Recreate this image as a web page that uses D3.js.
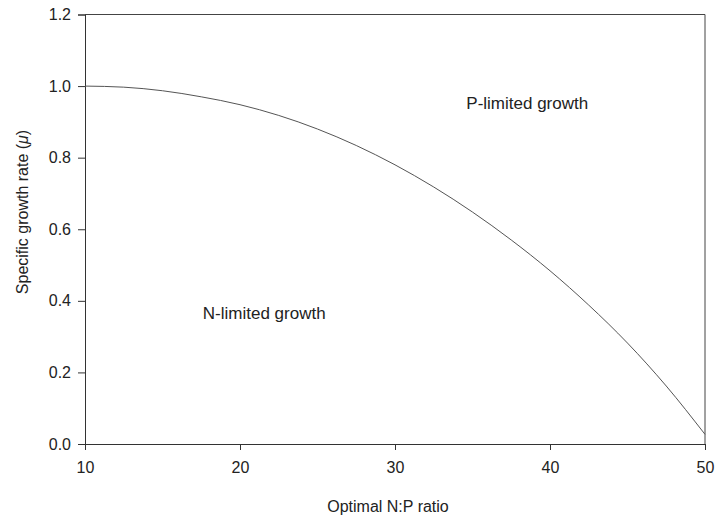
<!DOCTYPE html>
<html>
<head>
<meta charset="utf-8">
<script src="https://cdn.jsdelivr.net/npm/d3@7"></script>
<style>
  body { margin: 0; background: #fff; }
  svg { display: block; font-family: "Liberation Sans", Arial, sans-serif; }
</style>
</head>
<body>
<div id="chart"></div>
<script>
// N:P ratio along the curve and the growth rate
const npRatio = [10, 12.5, 15, 17.5, 20, 22.5, 25, 27.5, 30, 32.5, 35, 37.5, 40, 42.5, 45, 47.5, 50];
const growthRate = [1.0, 0.997, 0.987, 0.97, 0.948, 0.918, 0.88, 0.834, 0.78, 0.718, 0.648, 0.57, 0.484, 0.388, 0.282, 0.162, 0.027];
const xTicks = [10, 20, 30, 40, 50];
const yTicks = [0, 0.2, 0.4, 0.6, 0.8, 1.0, 1.2];

const totalWidth = 716;
const totalHeight = 519;
const margin = { top: 14.5, right: 11, bottom: 75, left: 85 };
const width = totalWidth - margin.left - margin.right;
const height = totalHeight - margin.top - margin.bottom;

const svg = d3.select('#chart')
  .append('svg')
  .attr('width', totalWidth)
  .attr('height', totalHeight)
  .append('g')
  .attr('transform', `translate(${margin.left},${margin.top})`);

const x = d3.scaleLinear().domain([10, 50]).range([0, width]);
const y = d3.scaleLinear().domain([0, 1.2]).range([height, 0]);

// frame (top and right sides)
svg.append('path')
  .attr('d', `M0,0H${width}V${height}`)
  .attr('fill', 'none')
  .attr('stroke', '#444')
  .attr('stroke-width', 1);

// axes
const xAxis = svg.append('g')
  .attr('transform', `translate(0,${height})`)
  .call(d3.axisBottom(x).tickValues(xTicks).tickSize(6).tickPadding(12).tickFormat(d3.format('d')));

const yAxis = svg.append('g')
  .call(d3.axisLeft(y).tickValues(yTicks).tickSize(7).tickPadding(7).tickFormat(d3.format('.1f')));

[xAxis, yAxis].forEach((g) => {
  g.select('.domain').attr('stroke', '#333');
  g.selectAll('.tick line').attr('stroke', '#333');
  g.selectAll('.tick text')
    .attr('fill', '#222')
    .style('font-size', '16px')
    .style('font-family', '"Liberation Sans", Arial, sans-serif');
});

// curve
const line = d3.line()
  .x((d, i) => x(npRatio[i]))
  .y((d) => y(d))
  .curve(d3.curveMonotoneX);

svg.append('path')
  .datum(growthRate)
  .attr('fill', 'none')
  .attr('stroke', '#555')
  .attr('stroke-width', 1)
  .attr('d', line);

// region labels
svg.append('text')
  .attr('x', x(34.6))
  .attr('y', y(0.935))
  .attr('fill', '#222')
  .style('font-size', '17px')
  .text('P-limited growth');

svg.append('text')
  .attr('x', x(17.6))
  .attr('y', y(0.348))
  .attr('fill', '#222')
  .style('font-size', '17px')
  .text('N-limited growth');

// axis titles
svg.append('text')
  .attr('x', width / 2 - 7)
  .attr('y', height + 68)
  .attr('text-anchor', 'middle')
  .attr('fill', '#222')
  .style('font-size', '16px')
  .text('Optimal N:P ratio');

const yTitle = svg.append('text')
  .attr('transform', `translate(${28 - margin.left},${212 - margin.top}) rotate(-90)`)
  .attr('text-anchor', 'middle')
  .attr('fill', '#222')
  .style('font-size', '16px');
yTitle.append('tspan').text('Specific growth rate (');
yTitle.append('tspan').style('font-style', 'italic').text('μ');
yTitle.append('tspan').text(')');
</script>
</body>
</html>
